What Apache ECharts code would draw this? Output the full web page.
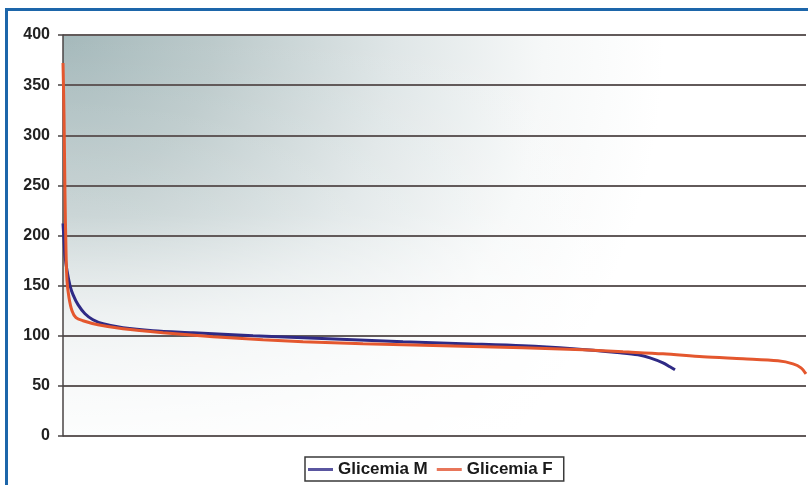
<!DOCTYPE html>
<html>
<head>
<meta charset="utf-8">
<script src="https://cdn.jsdelivr.net/npm/echarts@6/dist/echarts.min.js"></script>
<style>
  html, body { margin: 0; padding: 0; background: #ffffff; }
  #chart { width: 808px; height: 485px; }
</style>
</head>
<body>
<div id="chart"></div>
<script>
// Glycaemia values sorted in descending order (rank, mg/dl)
const seriesNames = ['Glicemia M', 'Glicemia F'];
const glicemiaM = [
  [0, 212], [1, 196], [2, 180], [4, 165], [7, 150], [10, 141], [15, 131],
  [22, 122], [30, 116], [40, 112], [60, 108], [90, 105], [130, 103],
  [190, 100], [240, 98], [290, 96], [340, 94], [400, 92], [460, 90],
  [510, 87], [557, 83], [575, 81], [587, 78], [600, 73], [607, 69], [612, 66]
];
const glicemiaF = [
  [0, 372], [1, 320], [2, 240], [3, 185], [4, 155], [6, 138], [9, 125],
  [13, 118], [20, 115], [35, 111], [60, 107], [100, 103], [150, 99],
  [200, 96], [240, 94], [300, 92], [380, 90], [460, 88], [520, 86],
  [560, 84], [600, 82], [640, 79], [680, 77], [715, 75], [730, 72],
  [738, 68], [743, 62]
];
const yTicks = [0, 50, 100, 150, 200, 250, 300, 350, 400];
const rankCount = 743;

// plot area box (pixels)
const plot = { left: 63, top: 35, right: 2, bottom: 49 };
const plotW = 808 - plot.left - plot.right;
const plotH = 485 - plot.top - plot.bottom;

const chart = echarts.init(document.getElementById('chart'), null, { renderer: 'canvas' });

const fontFamily = 'Liberation Sans, Arial, sans-serif';

chart.setOption({
  animation: false,
  backgroundColor: '#ffffff',
  graphic: [
    {
      // outer frame
      type: 'rect',
      left: 4, top: 7,
      shape: { x: 0, y: 0, width: 830, height: 500 },
      style: { fill: 'none', stroke: '#1d66aa', lineWidth: 3 },
      z: 100
    },
    {
      // lightens the lower part of the shaded plot background
      type: 'rect',
      left: plot.left, top: plot.top,
      shape: { x: 0, y: 0, width: plotW, height: plotH },
      style: {
        fill: {
          type: 'linear', x: 0, y: 0, x2: 0, y2: 1,
          colorStops: [
            { offset: 0, color: 'rgba(255,255,255,0)' },
            { offset: 0.45, color: 'rgba(255,255,255,0.15)' },
            { offset: 0.7, color: 'rgba(255,255,255,0.6)' },
            { offset: 1, color: 'rgba(255,255,255,0.88)' }
          ]
        }
      },
      silent: true,
      z: 1
    }
  ],
  grid: {
    left: plot.left, right: plot.right, top: plot.top, bottom: plot.bottom,
    show: true,
    borderWidth: 0,
    z: 0,
    backgroundColor: {
      type: 'radial', x: 0, y: 0, r: 1.5,
      colorStops: [
        { offset: 0, color: '#a5b9bb' },
        { offset: 0.25, color: '#bccacb' },
        { offset: 0.55, color: '#dfe6e7' },
        { offset: 0.8, color: '#f6f8f8' },
        { offset: 1, color: '#ffffff' }
      ]
    }
  },
  legend: {
    data: [
      { name: seriesNames[0], itemStyle: { color: '#5a56a0' } },
      { name: seriesNames[1], itemStyle: { color: '#e8765a' } }
    ],
    left: 305, top: 457,
    padding: [4, 11, 3, 3],
    borderColor: '#3a3a3a', borderWidth: 1.5,
    itemWidth: 25, itemHeight: 3, itemGap: 9, itemTextGap: 7,
    icon: 'rect',
    textStyle: { fontFamily: fontFamily, fontWeight: 'bold', fontSize: 17, color: '#1a1a1a' }
  },
  xAxis: {
    type: 'value', min: 0, max: rankCount,
    axisLine: { show: false }, axisTick: { show: false },
    axisLabel: { show: false }, splitLine: { show: false }
  },
  yAxis: {
    type: 'value', min: yTicks[0], max: yTicks[yTicks.length - 1], interval: 50,
    z: 2,
    axisLine: { show: true, lineStyle: { color: '#4a4444', width: 1.5 } },
    axisTick: { show: true, length: 5, lineStyle: { color: '#4a4444', width: 1.5 } },
    axisLabel: {
      margin: 13, fontFamily: fontFamily, fontWeight: 'bold',
      fontSize: 16, color: '#222222'
    },
    splitLine: { show: true, lineStyle: { color: '#625a5a', width: 2 } }
  },
  series: [
    {
      name: seriesNames[0], type: 'line', data: glicemiaM,
      showSymbol: false, smooth: 0.3, z: 3,
      itemStyle: { color: '#2f2a85' },
      lineStyle: { color: '#2f2a85', width: 3 }
    },
    {
      name: seriesNames[1], type: 'line', data: glicemiaF,
      showSymbol: false, smooth: 0.3, z: 4,
      itemStyle: { color: '#e4572e' },
      lineStyle: { color: '#e4572e', width: 3 }
    }
  ]
});
</script>
</body>
</html>
